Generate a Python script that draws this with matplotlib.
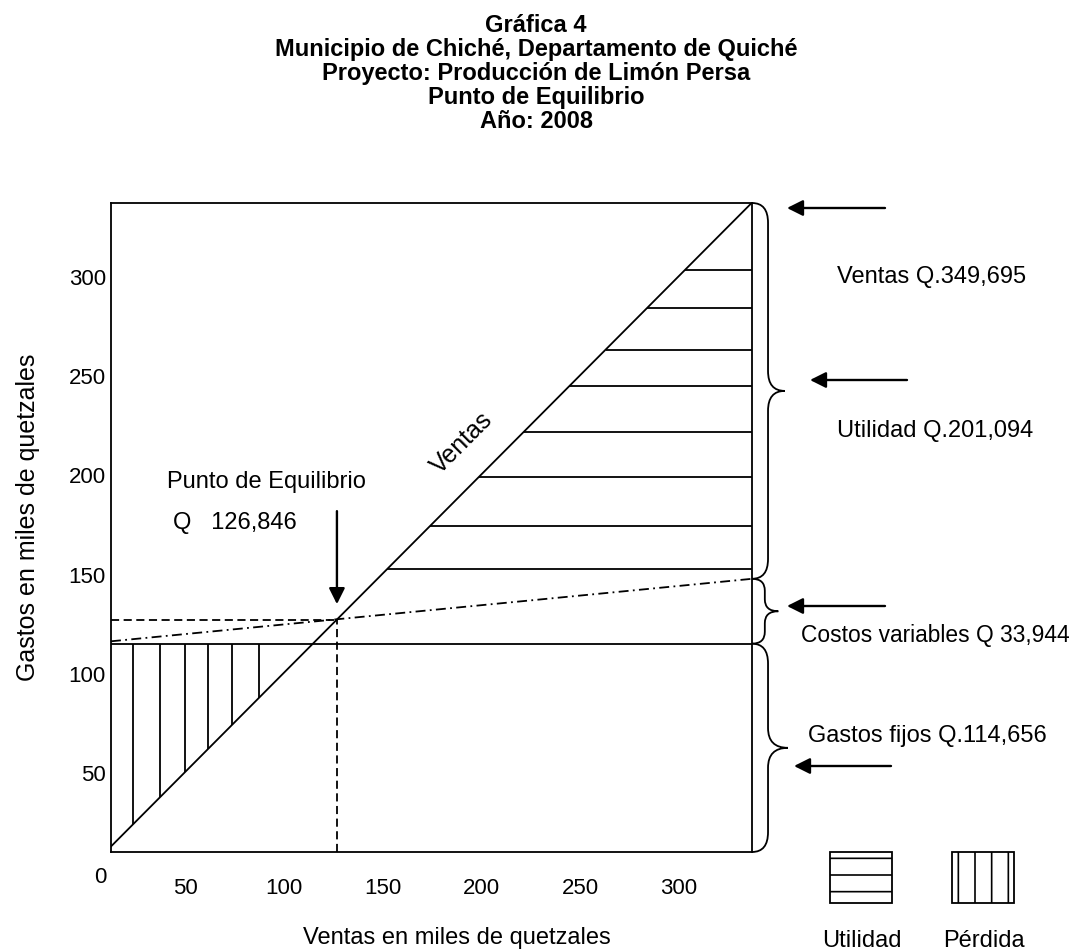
"""Gráfica 4: punto de equilibrio, producción de limón persa (Chiché, Quiché)."""

import matplotlib

matplotlib.use("Agg")

import matplotlib.pyplot as plt
from matplotlib.patches import PathPatch, Rectangle
from matplotlib.path import Path
from matplotlib.transforms import blended_transform_factory

# amounts in thousands of quetzales
VENTAS = 349.695
GASTOS_FIJOS = 114.656
COSTOS_VARIABLES = 33.944
PUNTO_EQUILIBRIO = 126.846

X_RANGE = (12.4, 337.1)
Y_RANGE = (9.6, 336.9)
X_TICKS = [50, 100, 150, 200, 250, 300]
Y_TICKS = [50, 100, 150, 200, 250, 300]

# hatch strokes of the loss / profit areas
PERDIDA_X = [23.6, 37.2, 49.9, 61.5, 73.7, 87.4]
UTILIDAD_Y = [152.3, 174.0, 198.7, 221.4, 244.6, 263.0, 283.9, 303.3]

TITLE_LINES = [
    "Gráfica 4",
    "Municipio de Chiché, Departamento de Quiché",
    "Proyecto: Producción de Limón Persa",
    "Punto de Equilibrio",
    "Año: 2008",
]

SIDE_LABELS = [
    ("Ventas Q.349,695", 837, 283, 17),
    ("Utilidad Q.201,094", 837, 437, 17),
    ("Costos variables Q 33,944", 801, 642, 16.4),
    ("Gastos fijos Q.114,656", 808, 742, 17),
]

FIG_W, FIG_H = 1072, 953
FONT = "Liberation Sans"
LW = 1.3
TXT = 17

plt.rcParams["font.family"] = [FONT, "DejaVu Sans"]
plt.rcParams["hatch.linewidth"] = 1.2


def costo_total(x):
    return GASTOS_FIJOS + COSTOS_VARIABLES / VENTAS * x


def _fig_xy(px, py):
    return px / FIG_W, 1 - py / FIG_H


def _brace(ax, top, bottom, body, tip, r):
    """Curly brace hanging off the right spine; x in axes units past 1."""
    trans = blended_transform_factory(ax.transAxes, ax.transData)
    mid = (top + bottom) / 2
    body, tip = 1 + body, 1 + tip
    verts = [
        (1.0, top), (body, top), (body, top - r),
        (body, mid + r), (body, mid), (tip, mid),
        (body, mid), (body, mid - r),
        (body, bottom + r), (body, bottom), (1.0, bottom),
    ]
    codes = [
        Path.MOVETO, Path.CURVE3, Path.CURVE3,
        Path.LINETO, Path.CURVE3, Path.CURVE3,
        Path.CURVE3, Path.CURVE3,
        Path.LINETO, Path.CURVE3, Path.CURVE3,
    ]
    ax.add_patch(
        PathPatch(Path(verts, codes), transform=trans, fill=False,
                  lw=LW, color="black", clip_on=False)
    )


def _arrow(ax, tail, tip, coords="figure fraction"):
    ax.annotate(
        "", xy=tip, xycoords=coords, xytext=tail, textcoords=coords,
        arrowprops=dict(arrowstyle="-|>", color="black", lw=1.7,
                        mutation_scale=24, shrinkA=0, shrinkB=0),
        annotation_clip=False,
    )


fig = plt.figure(figsize=(FIG_W / 100, FIG_H / 100), dpi=100)
ax = fig.add_axes([111 / FIG_W, 1 - 853 / FIG_H, 641 / FIG_W, 649 / FIG_H])
ax.set_xlim(*X_RANGE)
ax.set_ylim(*Y_RANGE)

for i, line in enumerate(TITLE_LINES):
    fig.text(0.5, 1 - (32 + 24 * i) / FIG_H, line, ha="center", va="baseline",
             fontsize=TXT, fontweight="bold")

# ventas, costos, gastos fijos
x0, x1 = X_RANGE
ax.plot([x0, x1], [x0, x1], color="black", lw=LW)
ax.plot([x0, x1], [costo_total(x0), costo_total(x1)], color="black", lw=LW,
        ls=(0, (5.5, 2.4, 1.0, 2.4)))
ax.axhline(GASTOS_FIJOS, color="black", lw=LW)

pe = PUNTO_EQUILIBRIO
ax.plot([x0, pe], [pe, pe], color="black", lw=LW, ls=(0, (4.5, 2.5)))
ax.plot([pe, pe], [Y_RANGE[0], pe], color="black", lw=LW, ls=(0, (4.5, 2.5)))

ax.vlines(PERDIDA_X, PERDIDA_X, GASTOS_FIJOS, color="black", lw=LW)
ax.hlines(UTILIDAD_Y, UTILIDAD_Y, x1, color="black", lw=LW)

ax.text(190.2, 216.3, "Ventas", rotation=45, rotation_mode="anchor",
        ha="center", va="center", fontsize=18)
ax.text(40.8, 193.6, "Punto de Equilibrio", fontsize=TXT, va="baseline")
ax.text(43.8, 173.0, "Q   126,846", fontsize=TXT, va="baseline")
_arrow(ax, (pe, 181.5), (pe, 134.6), coords="data")

# axes
ax.set_xticks(X_TICKS)
ax.set_yticks(Y_TICKS)
ax.tick_params(length=0, labelsize=16)
ax.tick_params(axis="x", pad=18)
ax.tick_params(axis="y", pad=3.6)
for side in ax.spines.values():
    side.set_linewidth(LW)
ax.annotate("0", xy=(0, 0), xycoords=("axes fraction", "data"),
            xytext=(-3.5, -4), textcoords="offset points",
            ha="right", va="center", fontsize=16, annotation_clip=False)

ax.set_xlabel("Ventas en miles de quetzales", fontsize=TXT, va="top")
ax.xaxis.set_label_coords((457 - 111) / 641, (853 - 927) / 649)
ax.set_ylabel("Gastos en miles de quetzales", fontsize=18)
ax.yaxis.set_label_coords((40 - 111) / 641, (853 - 517) / 649)

# braces and pointers on the right
tope = costo_total(x1)
_brace(ax, Y_RANGE[1], tope, 0.025, 0.051, 10)
_brace(ax, tope, GASTOS_FIJOS, 0.020, 0.041, 6)
_brace(ax, GASTOS_FIJOS, Y_RANGE[0], 0.025, 0.056, 10)

for tail, tip in [((885, 209), (787, 209)), ((907, 381), (810, 381)),
                  ((885, 607), (787, 607)), ((891, 767), (794, 767))]:
    _arrow(ax, _fig_xy(*tail), _fig_xy(*tip))

for label, px, py, size in SIDE_LABELS:
    fig.text(*_fig_xy(px, py), label, fontsize=size, va="baseline")

# legend swatches
for hatch, left, label in [("-", 830, "Utilidad"), ("|", 952, "Pérdida")]:
    fig.add_artist(Rectangle(_fig_xy(left, 904), 62 / FIG_W, 51 / FIG_H,
                             transform=fig.transFigure, fill=False,
                             hatch=hatch, lw=LW, edgecolor="black"))
    fig.text(*_fig_xy(left + 32, 947), label, fontsize=TXT, ha="center",
             va="baseline")

fig.savefig("out.png", dpi=100)
